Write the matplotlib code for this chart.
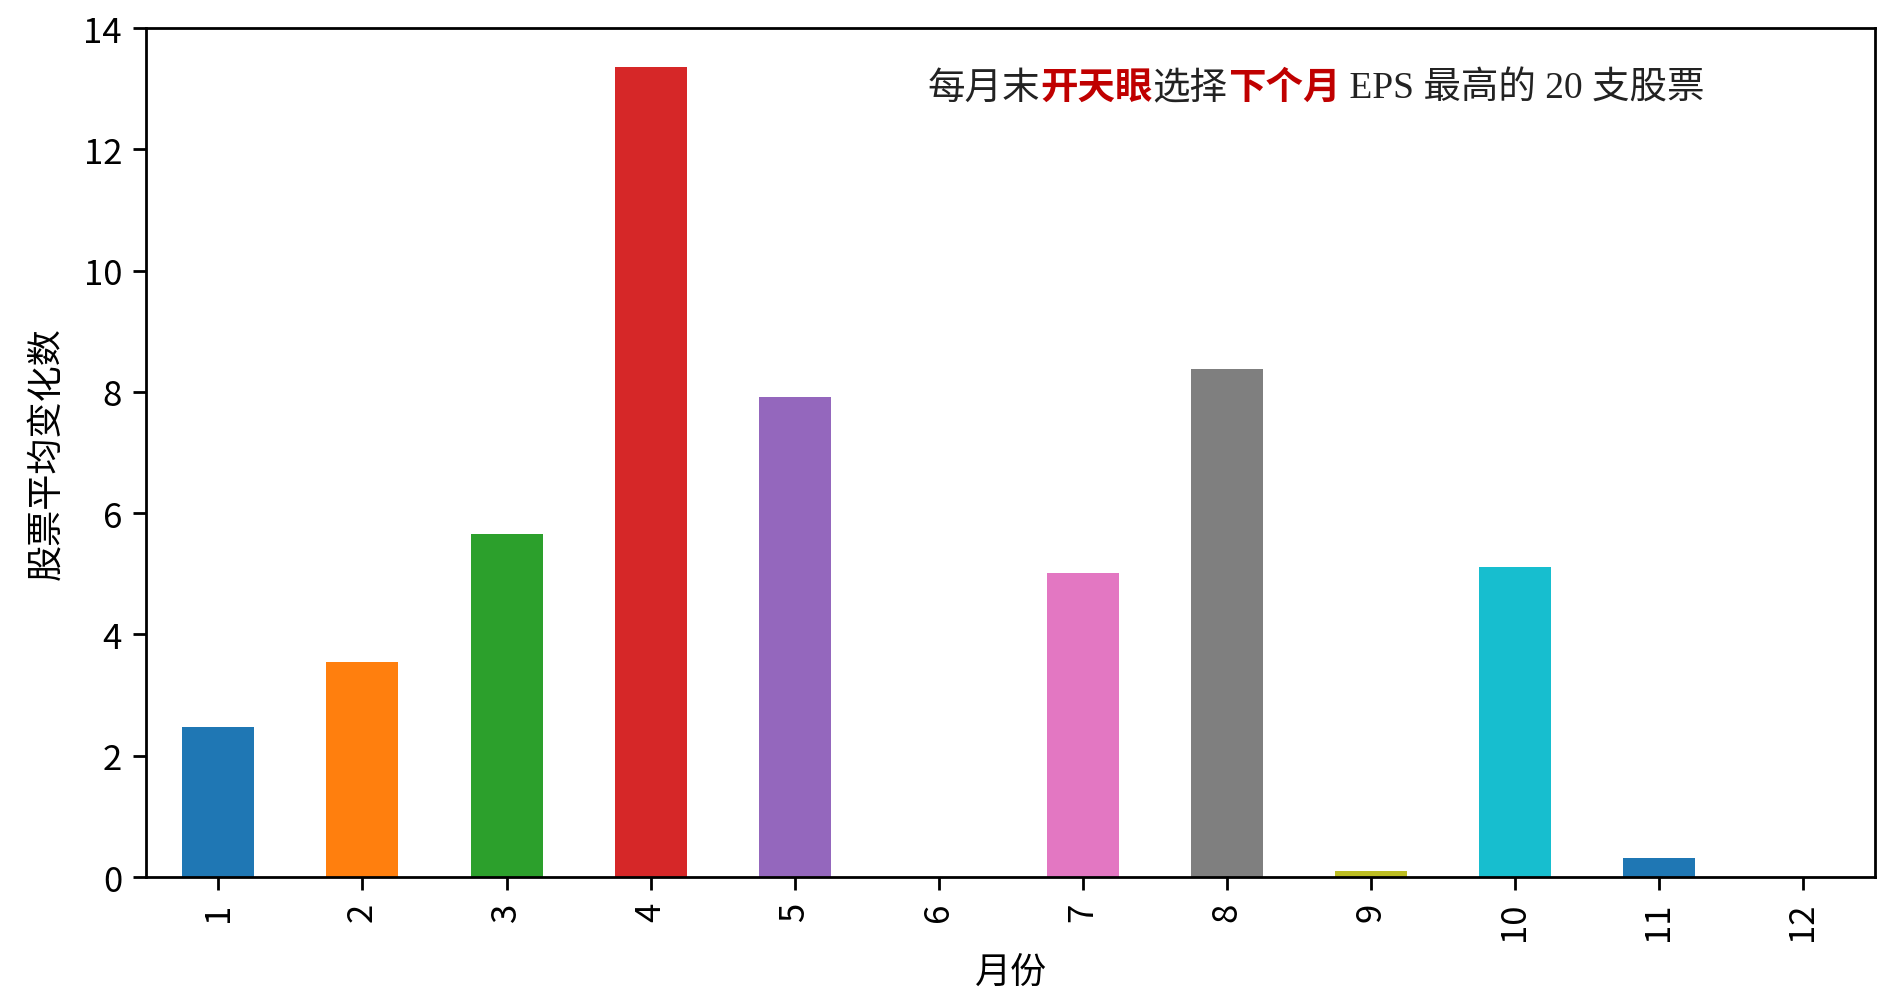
import matplotlib
matplotlib.use("Agg")
import matplotlib.pyplot as plt
import numpy as np

plt.rcParams['font.family'] = ['Noto Sans CJK SC', 'DejaVu Sans']
plt.rcParams['axes.unicode_minus'] = False

months = [1, 2, 3, 4, 5, 6, 7, 8, 9, 10, 11, 12]
values = [2.48, 3.54, 5.65, 13.36, 7.91, 0.0, 5.01, 8.37, 0.10, 5.11, 0.32, 0.0]
colors = ['#1f77b4', '#ff7f0e', '#2ca02c', '#d62728', '#9467bd', '#8c564b',
          '#e377c2', '#7f7f7f', '#bcbd22', '#17becf', '#1f77b4', '#ff7f0e']
yticks = [0, 2, 4, 6, 8, 10, 12, 14]

title_parts = [("每月末", "#222222", "normal"), ("开天眼", "#c00000", "bold"),
               ("选择", "#222222", "normal"), ("下个月", "#c00000", "bold"),
               (" EPS 最高的 20 支股票", "#222222", "normal")]

fig = plt.figure(figsize=(18.99, 10.03), dpi=100)
ax = fig.add_axes([0.0771, 0.1246, 0.9102, 0.8464])

x = np.arange(len(months))
ax.bar(x, values, width=0.5, color=colors)
ax.set_xlim(-0.5, len(months) - 0.5)
ax.set_ylim(0, 14)
ax.set_yticks(yticks)
ax.set_xticks(x)
ax.set_xticklabels([str(m) for m in months], rotation=90)

for s in ax.spines.values():
    s.set_linewidth(2.0)
ax.tick_params(axis='both', which='major', length=9.5, width=2.0, labelsize=25, pad=8)

ax.set_ylabel("股票平均变化数", fontsize=26, labelpad=14)
ax.set_xlabel("月份", fontsize=26, labelpad=10)

prev = None
for txt, col, wt in title_parts:
    kw = dict(fontsize=27, color=col, fontweight=wt,
              family=['Liberation Serif', 'Noto Sans CJK SC'],
              va='center', ha='left')
    if prev is None:
        prev = ax.text(0.452, 0.929, txt, transform=ax.transAxes, **kw)
    else:
        prev = ax.annotate(txt, xy=(1, 0.5), xycoords=prev, **kw)

fig.savefig("out.png", dpi=100)
